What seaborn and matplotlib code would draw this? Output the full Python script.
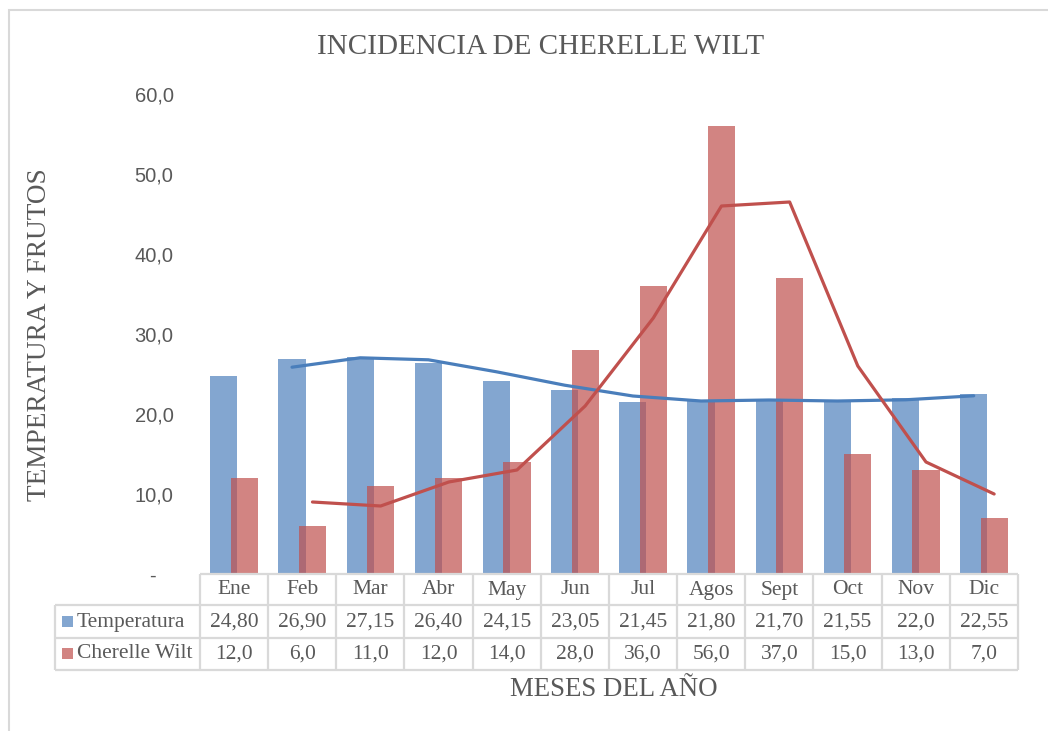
import numpy as np
import pandas as pd
import matplotlib
matplotlib.use('Agg')
import matplotlib.pyplot as plt
import seaborn as sns
from matplotlib.patches import Rectangle

# Data
meses = ['Ene', 'Feb', 'Mar', 'Abr', 'May', 'Jun', 'Jul', 'Agos', 'Sept', 'Oct', 'Nov', 'Dic']
temperatura = [24.80, 26.90, 27.15, 26.40, 24.15, 23.05, 21.45, 21.80, 21.70, 21.55, 22.0, 22.55]
cherelle = [12.0, 6.0, 11.0, 12.0, 14.0, 28.0, 36.0, 56.0, 37.0, 15.0, 13.0, 7.0]
tabla_temp = ['24,80', '26,90', '27,15', '26,40', '24,15', '23,05', '21,45', '21,80', '21,70', '21,55', '22,0', '22,55']
tabla_cher = ['12,0', '6,0', '11,0', '12,0', '14,0', '28,0', '36,0', '56,0', '37,0', '15,0', '13,0', '7,0']
yticks = [0, 10, 20, 30, 40, 50, 60]
ytick_labels = ['-   ', '10,0', '20,0', '30,0', '40,0', '50,0', '60,0']

# 2-period moving average trendlines (as Excel draws them)
temp_trend = pd.Series(temperatura).rolling(2).mean()
cher_trend = pd.Series(cherelle).rolling(2).mean()

sns.set_theme(style='white')
plt.rcParams['font.family'] = ['Liberation Serif', 'DejaVu Serif']

W, H = 1048, 731
fig = plt.figure(figsize=(W / 100, H / 100), dpi=100)
gray = '#595959'
grid = '#D9D9D9'

# chart frame
fig.patches.append(Rectangle((9 / W, -0.01), 1.05, 1 - 10 / H + 0.01, transform=fig.transFigure,
                             fill=False, edgecolor=grid, lw=1.5))

x0, x1 = 200, 1018
ax = fig.add_axes([x0 / W, 1 - 574 / H, (x1 - x0) / W, (574 - 94) / H])
pos = np.arange(len(meses))

sns.barplot(x=pos - 0.15, y=temperatura, native_scale=True, width=0.4, color='#4F81BD',
            alpha=0.7, saturation=1, errorbar=None, linewidth=0, ax=ax)
sns.barplot(x=pos + 0.15, y=cherelle, native_scale=True, width=0.4, color='#C0504D',
            alpha=0.7, saturation=1, errorbar=None, linewidth=0, ax=ax)
sns.lineplot(x=pos[1:] - 0.15, y=temp_trend[1:], color='#4A7EBB', lw=2.3, ax=ax)
sns.lineplot(x=pos[1:] + 0.15, y=cher_trend[1:], color='#C0504D', lw=2.3, ax=ax)

ax.set_xlim(-0.5, 11.5)
ax.set_ylim(0, 60)
ax.set_xticks([])
ax.set_yticks(yticks)
ax.set_yticklabels(ytick_labels, family='Liberation Sans', fontsize=14.5, color=gray)
ax.tick_params(axis='y', length=0, pad=19)
ax.set_xlabel('')
ax.set_ylabel('')
for s in ax.spines.values():
    s.set_visible(False)

# data table under the chart
cw = (x1 - x0) / 12
left_cat = -0.5 - (x0 - 55) / cw
tab = fig.add_axes([55 / W, 1 - 670 / H, (x1 - 55) / W, (670 - 574) / H])
tab.set_xlim(left_cat, 11.5)
tab.set_ylim(670, 574)
tab.axis('off')
rows = [574, 605, 638, 670]
lk = dict(color=grid, lw=1.6, solid_capstyle='butt', clip_on=False)
tab.plot([-0.5, 11.5], [rows[0], rows[0]], **lk)
for r in rows[1:]:
    tab.plot([left_cat, 11.5], [r, r], **lk)
for b in np.arange(-0.5, 12, 1):
    tab.plot([b, b], [rows[0], rows[3]], **lk)
tab.plot([left_cat, left_cat], [rows[1], rows[3]], **lk)

fs = 15.5
for i, m in enumerate(meses):
    tab.text(i, 590, m, ha='center', va='center', fontsize=fs, color=gray)
    tab.text(i, 622, tabla_temp[i], ha='center', va='center', fontsize=fs, color=gray)
    tab.text(i, 654, tabla_cher[i], ha='center', va='center', fontsize=fs, color=gray)

sq = 11 / cw
tab.add_patch(Rectangle((left_cat + 7 / cw, 627), sq, -11, color='#4F81BD', alpha=0.7, lw=0))
tab.add_patch(Rectangle((left_cat + 7 / cw, 659), sq, -11, color='#C0504D', alpha=0.7, lw=0))
tab.text(left_cat + 22 / cw, 622, 'Temperatura', ha='left', va='center', fontsize=fs, color=gray)
tab.text(left_cat + 22 / cw, 654, 'Cherelle Wilt', ha='left', va='center', fontsize=fs, color=gray)

# titles
fig.text(541 / W, 1 - 47 / H, 'INCIDENCIA DE CHERELLE WILT', ha='center', va='center',
         fontsize=21, color=gray)
fig.text(614 / W, 1 - 690 / H, 'MESES DEL AÑO', ha='center', va='center', fontsize=19.4, color=gray)
fig.text(40 / W, 1 - 335 / H, 'TEMPERATURA Y FRUTOS', ha='center', va='center', rotation=90,
         fontsize=19.6, color=gray)

fig.savefig('out.png', dpi=100, facecolor='white')
